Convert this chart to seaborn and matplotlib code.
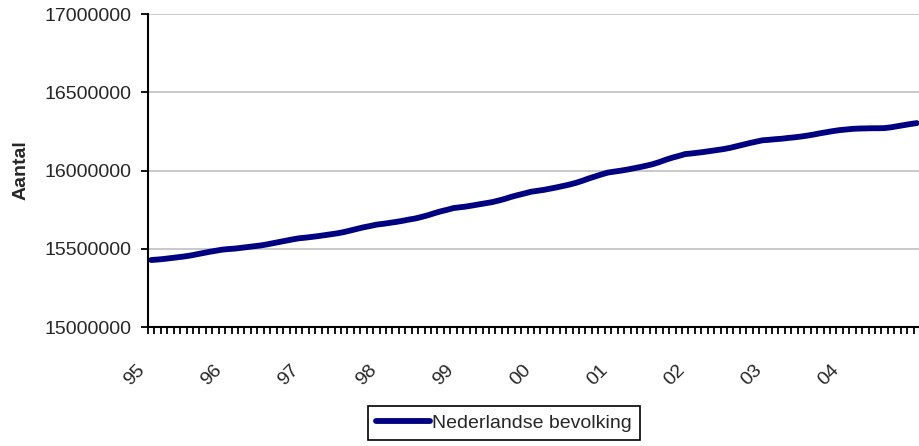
import matplotlib
matplotlib.use("Agg")
import matplotlib.pyplot as plt
import matplotlib.transforms as mtransforms
import seaborn as sns
import pandas as pd
import numpy as np

# Monthly population (thousands), Jan 1995 .. Dec 2004
pop_1995 = [15428, 15431, 15435, 15440, 15445, 15450, 15456, 15464, 15472, 15480, 15487, 15494]
pop_1996 = [15498, 15501, 15506, 15511, 15516, 15521, 15528, 15536, 15544, 15552, 15560, 15567]
pop_1997 = [15571, 15576, 15581, 15587, 15593, 15599, 15607, 15617, 15627, 15637, 15645, 15654]
pop_1998 = [15659, 15665, 15671, 15678, 15686, 15693, 15703, 15714, 15727, 15739, 15749, 15760]
pop_1999 = [15765, 15770, 15777, 15784, 15791, 15798, 15808, 15819, 15832, 15843, 15853, 15864]
pop_2000 = [15870, 15876, 15884, 15892, 15901, 15910, 15921, 15934, 15949, 15962, 15975, 15987]
pop_2001 = [15993, 15999, 16006, 16014, 16022, 16031, 16041, 16054, 16069, 16082, 16093, 16105]
pop_2002 = [16109, 16114, 16119, 16125, 16131, 16137, 16145, 16155, 16165, 16175, 16184, 16193]
pop_2003 = [16196, 16200, 16203, 16208, 16212, 16217, 16223, 16230, 16238, 16245, 16252, 16258]
pop_2004 = [16262, 16266, 16268, 16269, 16270, 16270, 16271, 16276, 16283, 16290, 16297, 16303]

year_labels = ["95", "96", "97", "98", "99", "00", "01", "02", "03", "04"]
series_name = "Nederlandse bevolking"
y_ticks = [15000000, 15500000, 16000000, 16500000, 17000000]

values = []
for yr in [pop_1995, pop_1996, pop_1997, pop_1998, pop_1999,
           pop_2000, pop_2001, pop_2002, pop_2003, pop_2004]:
    values.extend([v * 1000 for v in yr])

df = pd.DataFrame({"idx": np.arange(len(values)), "Aantal": values,
                   "serie": series_name})

sns.set_theme(style="white")
plt.rcParams["font.family"] = ["Liberation Sans", "DejaVu Sans"]

fig = plt.figure(figsize=(9.2, 4.46), dpi=100)
ax = fig.add_axes([148 / 920, 1 - 327 / 446, 1 - 148 / 920, (327 - 14) / 446])

sns.lineplot(data=df, x="idx", y="Aantal", hue="serie", palette=["#000080"],
             linewidth=4.2, ax=ax, legend=False)

ax.set_xlim(-0.5, 118.3)
ax.set_ylim(15000000, 17000000)
ax.set_yticks(y_ticks)
ax.set_yticklabels([str(t) for t in y_ticks], fontsize=14)
ax.yaxis.grid(True, color="#c0c0c0", linewidth=1.2)
ax.set_axisbelow(True)

n = len(values)
ax.set_xticks(np.arange(0, n, 12))
ax.set_xticklabels(year_labels, rotation=45, ha="right", va="top",
                   rotation_mode="anchor", fontsize=14)
ax.set_xticks(np.arange(-0.5, n, 1), minor=True)
ax.tick_params(axis="x", which="major", length=0, pad=25)
ax.tick_params(axis="x", which="minor", length=5, width=1.3, color="black",
               direction="out", bottom=True)
ax.tick_params(axis="y", which="major", length=5, width=1.3, color="black",
               direction="out", left=True, pad=7)

offset = mtransforms.ScaledTranslation(-15 / 100, 0, fig.dpi_scale_trans)
for lbl in ax.xaxis.get_majorticklabels():
    lbl.set_transform(lbl.get_transform() + offset)

for s in ["top", "right"]:
    ax.spines[s].set_visible(False)
for s in ["left", "bottom"]:
    ax.spines[s].set_color("black")
    ax.spines[s].set_linewidth(1.5)

ax.set_xlabel("")
ax.set_ylabel("Aantal", fontsize=14, fontweight="bold", labelpad=11)

from matplotlib.lines import Line2D
handle = Line2D([0], [0], color="#000080", linewidth=4.2)
leg = fig.legend([handle], [series_name], loc="center",
                 bbox_to_anchor=(504 / 920, 1 - 423 / 446), fontsize=14,
                 frameon=True, fancybox=False, edgecolor="black",
                 framealpha=1, handlelength=2.8, handletextpad=0.1,
                 borderpad=0.42, borderaxespad=0)
leg.get_frame().set_linewidth(1.2)

fig.savefig("out.png", dpi=100)
